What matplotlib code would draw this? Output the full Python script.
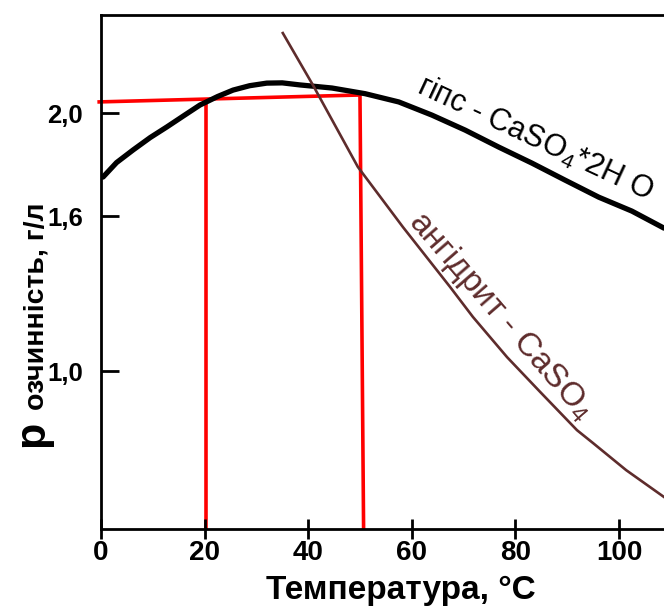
import matplotlib as mpl
import matplotlib.pyplot as plt

mpl.rcParams['font.family'] = ['Liberation Sans', 'DejaVu Sans']
mpl.rcParams['mathtext.fontset'] = 'custom'
mpl.rcParams['mathtext.rm'] = 'Liberation Sans'
mpl.rcParams['mathtext.it'] = 'Liberation Sans:italic'
mpl.rcParams['mathtext.bf'] = 'Liberation Sans:bold'

# gypsum CaSO4*2H2O solubility, g/l
gyps_t = [0.4, 3.0, 6.2, 9.5, 12.7, 16.0, 19.1, 22.5, 25.5, 28.7, 32.0, 35.0, 38.4,
          44.6, 51.0, 57.5, 63.9, 70.3, 76.8, 83.2, 89.6, 96.1, 102.5, 108.7]
gyps_s = [1.752, 1.808, 1.857, 1.905, 1.946, 1.990, 2.031, 2.064, 2.089, 2.106,
          2.116, 2.117, 2.109, 2.097, 2.075, 2.043, 1.992, 1.934, 1.868, 1.806,
          1.740, 1.674, 1.620, 1.554]

# anhydrite CaSO4 solubility, g/l
anh_t = [35.1, 40.9, 49.6, 58.3, 67.4, 71.8, 78.4, 84.8, 91.9, 95.0, 101.4, 108.7]
anh_s = [2.31, 2.109, 1.791, 1.558, 1.326, 1.21, 1.054, 0.919, 0.771, 0.721, 0.616, 0.512]

# red reading lines at 20 and 50 degrees
ref_t = [20.3, 50.0]
ref_s = [2.045, 2.07]

xticks = [0, 20, 40, 60, 80, 100]
yticks = [1.0, 1.6, 2.0]
ytick_labels = ['1,0', '1,6', '2,0']

brown = '#5e2c2c'

fig = plt.figure(figsize=(6.64, 6.07), dpi=100)
ax = fig.add_axes([101 / 664, 1 - 529 / 607, 1 - 101 / 664, (529 - 15) / 607])
ymin, ymax = 0.388, 2.38
ax.set_xlim(0, 108.7)
ax.set_ylim(ymin, ymax)

# red helper lines (drawn under the curves)
ax.plot([-0.7, ref_t[1]], [2.043, ref_s[1]], color='#ff0000', lw=2.6, zorder=1,
        clip_on=False, solid_capstyle='butt')
ax.plot([ref_t[0], ref_t[0]], [ref_s[0], ymin], color='#ff0000', lw=2.6, zorder=1,
        solid_capstyle='butt')
ax.plot([ref_t[1], ref_t[1] + 0.7], [ref_s[1], ymin], color='#ff0000', lw=2.6, zorder=1,
        solid_capstyle='butt')

ax.plot(gyps_t, gyps_s, color='black', lw=3.8, zorder=3,
        solid_capstyle='round', solid_joinstyle='round')
ax.plot(anh_t, anh_s, color=brown, lw=1.9, zorder=4, solid_joinstyle='round')

ax.text(60.6, 2.078, 'гіпс - CaSO$_4$*2H O', rotation=-25, rotation_mode='anchor',
        ha='left', va='baseline', fontsize=22, color='black')
ax.text(59.3, 1.578, 'ангідрит - CaSO$_4$', rotation=-49, rotation_mode='anchor',
        ha='left', va='baseline', fontsize=24, color=brown)

ax.set_xticks(xticks)
ax.set_xticklabels([str(t) for t in xticks])
ax.set_yticks(yticks)
ax.set_yticklabels(ytick_labels)
ax.tick_params(axis='x', direction='inout', length=14, width=2, labelsize=20, pad=1)
ax.tick_params(axis='y', direction='in', length=13, width=2, labelsize=18.5, pad=13)
plt.setp(ax.get_xticklabels(), fontweight='bold')
plt.setp(ax.get_yticklabels(), fontweight='bold')

for s in ['left', 'bottom', 'top']:
    ax.spines[s].set_linewidth(2)
ax.spines['right'].set_visible(False)

ax.set_xlabel('Температура, °C', fontsize=24, fontweight='bold')
ax.xaxis.set_label_coords(0.533, -0.09)

# y label with an enlarged first letter
fig.text(43 / 664, 1 - 447 / 607, 'р', rotation=90, rotation_mode='anchor',
         ha='left', va='baseline', fontsize=31, fontweight='bold')
fig.text(43 / 664, 1 - 410 / 607, 'озчинність, г/л', rotation=90, rotation_mode='anchor',
         ha='left', va='baseline', fontsize=20.5, fontweight='bold')

fig.savefig('out.png', dpi=100)
